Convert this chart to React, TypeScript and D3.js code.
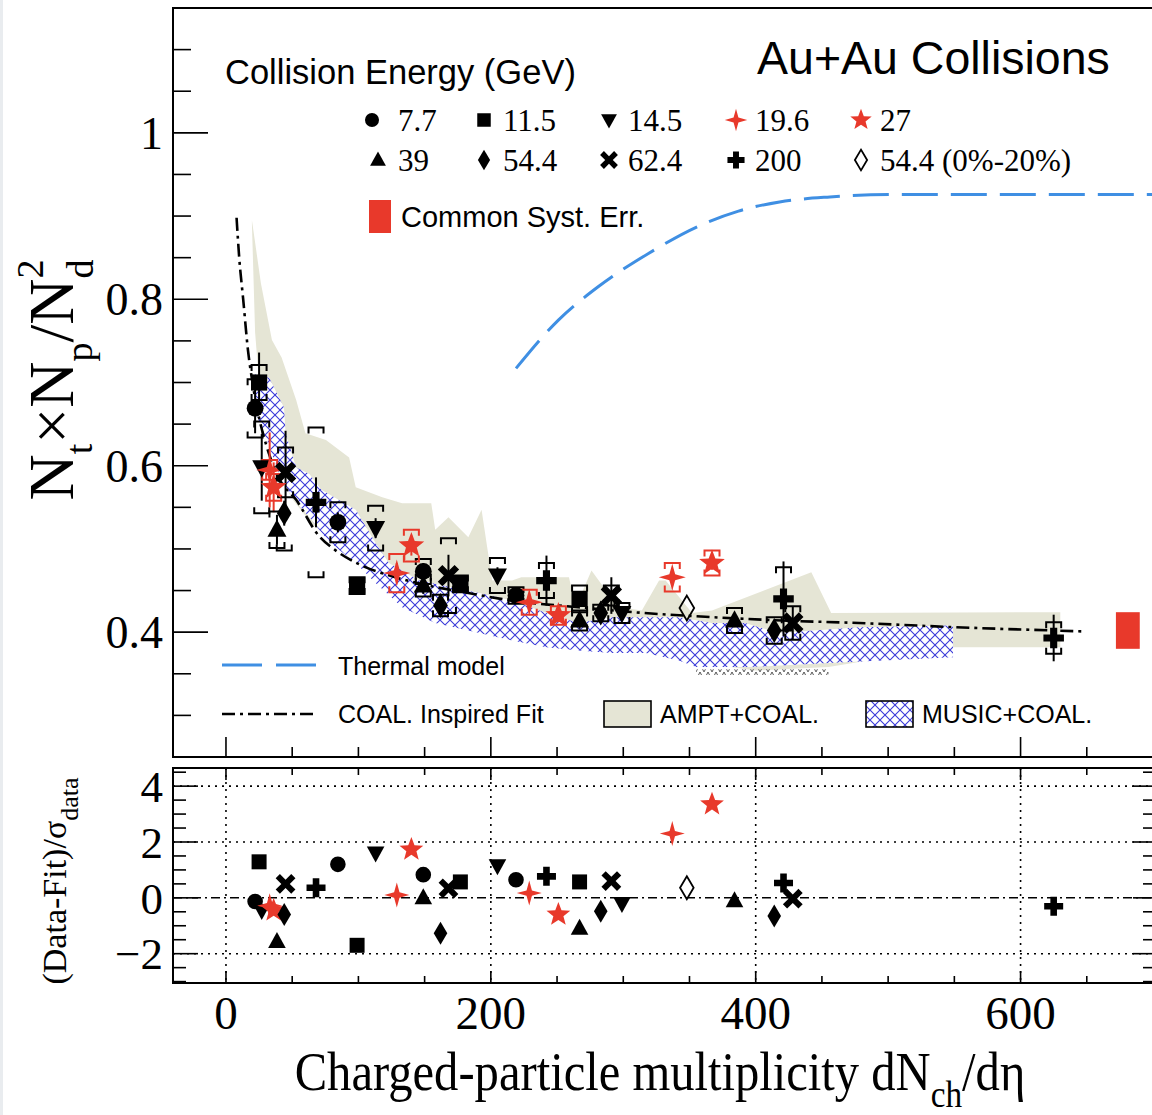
import React from 'react';
import * as d3 from 'd3';

// ---------------- DATA ----------------
const xTickValues = [0, 200, 400, 600];
const xTickLabels = ['0', '200', '400', '600'];
const yTopTickValues = [0.4, 0.6, 0.8, 1.0];
const yTopTickLabels = ['0.4', '0.6', '0.8', '1'];
const yBotTickValues = [-2, 0, 2, 4];
const yBotTickLabels = ['\u22122', '0', '2', '4'];

// 7.7 GeV
const x_7p7 = [22, 84.5, 149, 219];
const y_7p7 = [0.669, 0.532, 0.473, 0.444];
const stat_7p7 = [0.03, 0.012, 0.01, 0.008];
const syst_7p7 = [0.035, 0.024, 0.015, 0.01];
const res_7p7 = [-0.13, 1.2, 0.83, 0.65];
// 11.5 GeV
const x_11p5 = [25, 99, 177, 267];
const y_11p5 = [0.7, 0.456, 0.458, 0.44];
const stat_11p5 = [0.036, 0.008, 0.008, 0.008];
const syst_11p5 = [0.021, 0.01, 0.01, 0.016];
const res_11p5 = [1.29, -1.7, 0.57, 0.57];
// 14.5 GeV
const x_14p5 = [27, 113, 205, 299];
const y_14p5 = [0.598, 0.525, 0.468, 0.423];
const stat_14p5 = [0.04, 0.012, 0.01, 0.008];
const syst_14p5 = [0.055, 0.027, 0.021, 0.012];
const res_14p5 = [-0.45, 1.61, 1.15, -0.2];
// 19.6 GeV
const x_19p6 = [33, 129, 229, 337];
const y_19p6 = [0.595, 0.471, 0.436, 0.466];
const stat_19p6 = [0.045, 0.012, 0.01, 0.01];
const syst_19p6 = [0.012, 0.023, 0.015, 0.017];
const res_19p6 = [-0.28, 0.1, 0.17, 2.3];
// 27 GeV
const x_27 = [36, 140, 251, 367];
const y_27 = [0.574, 0.504, 0.42, 0.483];
const stat_27 = [0.03, 0.012, 0.008, 0.008];
const syst_27 = [0.016, 0.019, 0.011, 0.015];
const res_27 = [-0.45, 1.73, -0.6, 3.35];
// 39 GeV
const x_39 = [38.5, 149, 267, 384];
const y_39 = [0.523, 0.456, 0.414, 0.414];
const stat_39 = [0.018, 0.01, 0.01, 0.008];
const syst_39 = [0.022, 0.013, 0.012, 0.015];
const res_39 = [-1.56, 0.0, -1.09, -0.1];
// 54.4 GeV
const x_54p4 = [44, 162, 283, 414];
const y_54p4 = [0.543, 0.432, 0.423, 0.402];
const stat_54p4 = [0.015, 0.01, 0.008, 0.01];
const syst_54p4 = [0.045, 0.013, 0.01, 0.016];
const res_54p4 = [-0.6, -1.27, -0.48, -0.65];
// 62.4 GeV
const x_62p4 = [45, 168, 291, 428];
const y_62p4 = [0.592, 0.468, 0.444, 0.411];
const stat_62p4 = [0.05, 0.025, 0.022, 0.02];
const syst_62p4 = [0.03, 0.045, 0.012, 0.02];
const res_62p4 = [0.5, 0.34, 0.6, -0.03];
// 200 GeV
const x_200 = [68, 242, 421, 625];
const y_200 = [0.556, 0.462, 0.44, 0.393];
const stat_200 = [0.03, 0.03, 0.045, 0.028];
const syst_200 = [0.09, 0.021, 0.038, 0.019];
const res_200 = [0.36, 0.77, 0.53, -0.3];
// 54.4 GeV (0%-20%)
const x_54c = [348];
const y_54c = [0.429];
const stat_54c = [0];
const syst_54c = [0];
const res_54c = [0.36];

// COAL. inspired fit
const fitX = [8, 10, 13, 16.6, 20, 24, 30, 40, 53, 70, 83, 100, 128, 150, 183, 220, 266, 300, 367, 420, 478, 550, 646];
const fitY = [0.898, 0.85, 0.8, 0.739, 0.7, 0.665, 0.627, 0.585, 0.559, 0.516, 0.498, 0.482, 0.466, 0.457, 0.447, 0.437, 0.43, 0.425, 0.418, 0.414, 0.411, 0.406, 0.401];

// Thermal model
const thermalX = [219, 251, 281, 319, 357, 387, 418, 456, 508, 600, 700];
const thermalY = [0.717, 0.775, 0.815, 0.855, 0.888, 0.906, 0.917, 0.923, 0.926, 0.926, 0.926];

// AMPT+COAL band
const amptUpX = [19.6, 26.4, 34.7, 42, 53, 60, 75.5, 93, 98, 118, 133, 155, 158, 168, 183, 193, 201, 216, 223, 259, 264, 276, 287, 297, 314, 327, 332, 352, 367, 442, 457, 630];
const amptUpY = [0.895, 0.819, 0.751, 0.73, 0.679, 0.639, 0.631, 0.61, 0.574, 0.562, 0.555, 0.555, 0.523, 0.538, 0.514, 0.547, 0.462, 0.462, 0.466, 0.466, 0.43, 0.474, 0.45, 0.43, 0.426, 0.462, 0.462, 0.423, 0.426, 0.472, 0.423, 0.424];
const amptLoX = [19.6, 22, 25, 30, 40, 50, 65, 80, 100, 130, 160, 200, 250, 300, 350, 400, 455, 546, 630];
const amptLoY = [0.89, 0.76, 0.7, 0.64, 0.59, 0.56, 0.53, 0.51, 0.48, 0.455, 0.435, 0.415, 0.4, 0.385, 0.365, 0.354, 0.358, 0.382, 0.382];

// MUSIC+COAL band
const musicUpX = [22, 27, 32.5, 43.8, 45, 53, 63, 72, 98, 113, 123, 146, 191, 216, 242, 266, 291, 342, 367, 392, 417, 478, 549];
const musicUpY = [0.71, 0.706, 0.706, 0.67, 0.639, 0.598, 0.59, 0.571, 0.547, 0.507, 0.483, 0.462, 0.447, 0.438, 0.423, 0.411, 0.418, 0.418, 0.411, 0.411, 0.399, 0.406, 0.408];
const musicLoX = [22, 25, 30, 42, 50, 63, 75, 83, 98, 113, 133, 158, 183, 216, 242, 266, 291, 317, 342, 355, 395, 455, 549];
const musicLoY = [0.67, 0.651, 0.634, 0.583, 0.562, 0.538, 0.514, 0.502, 0.483, 0.459, 0.43, 0.411, 0.402, 0.39, 0.382, 0.378, 0.375, 0.375, 0.366, 0.358, 0.358, 0.363, 0.37];

// small black hatched sliver below MUSIC band
const tailX = [355, 455];
const tailLo = [0.3485, 0.3485];
const tailHi = [0.3555, 0.3555];

// common systematic error
const commonSystX = [672, 690];
const commonSystY = [0.38, 0.424];

// ---------------- STYLE / LAYOUT ----------------
const RED = '#e8392b';
const BEIGE = '#e5e5d5';
const HATCH = '#3a3ad8';
const BLUE = '#3f8fe3';
const SERIF = '"Liberation Serif", "Times New Roman", serif';
const SANS = '"Liberation Sans", Arial, Helvetica, sans-serif';

const L = 173, R = 1153;
const TT = 8, TB = 757;
const BT = 768, BB = 983;

const x = d3.scaleLinear().domain([-40, 700]).range([L, R]);
const yT = d3.scaleLinear().domain([0.25, 1.15]).range([TB, TT]);
const yB = d3.scaleLinear().domain([-3.05, 4.65]).range([BB, BT]);

type Kind = 'circle' | 'square' | 'triDown' | 'triUp' | 'star4' | 'star5' | 'diamond' | 'xcross' | 'plus' | 'diamondOpen';

function poly(pts: [number, number][], s: number) {
  return 'M' + pts.map(p => `${(p[0] * s).toFixed(2)},${(p[1] * s).toFixed(2)}`).join('L') + 'Z';
}
function starPts(n: number, R0: number, r0: number, rot: number): [number, number][] {
  const pts: [number, number][] = [];
  for (let i = 0; i < 2 * n; i++) {
    const a = rot + (Math.PI * i) / n;
    const rr = i % 2 === 0 ? R0 : r0;
    pts.push([rr * Math.sin(a), -rr * Math.cos(a)]);
  }
  return pts;
}
function plusPts(a: number, l: number): [number, number][] {
  return [[-a, -l], [a, -l], [a, -a], [l, -a], [l, a], [a, a], [a, l], [-a, l], [-a, a], [-l, a], [-l, -a], [-a, -a]];
}
function rot45(pts: [number, number][]): [number, number][] {
  const c = Math.SQRT1_2;
  return pts.map(([px, py]) => [px * c - py * c, px * c + py * c]);
}
function markerPath(kind: Kind, s: number): string {
  switch (kind) {
    case 'circle': {
      const r = 7.8 * s;
      return `M${r},0A${r},${r} 0 1 1 ${-r},0A${r},${r} 0 1 1 ${r},0Z`;
    }
    case 'square': return poly([[-7.5, -7.5], [7.5, -7.5], [7.5, 7.5], [-7.5, 7.5]], s);
    case 'triUp': return poly([[0, -9.5], [8.8, 6.5], [-8.8, 6.5]], s);
    case 'triDown': return poly([[0, 9.5], [8.8, -6.5], [-8.8, -6.5]], s);
    case 'diamond':
    case 'diamondOpen': return poly([[0, -11.5], [6.8, 0], [0, 11.5], [-6.8, 0]], s);
    case 'plus': return poly(plusPts(3.3, 9.5), s);
    case 'xcross': return poly(rot45(plusPts(3.0, 11)), s);
    case 'star4': return poly(starPts(4, 12.5, 3.8, 0), s);
    case 'star5': return poly(starPts(5, 12.5, 5.3, 0), s);
  }
  return '';
}

interface Series { label: string; kind: Kind; color: string; xs: number[]; ys: number[]; stat: number[]; syst: number[]; res: number[]; }

const series: Series[] = [
  { label: '7.7', kind: 'circle', color: '#000', xs: x_7p7, ys: y_7p7, stat: stat_7p7, syst: syst_7p7, res: res_7p7 },
  { label: '11.5', kind: 'square', color: '#000', xs: x_11p5, ys: y_11p5, stat: stat_11p5, syst: syst_11p5, res: res_11p5 },
  { label: '14.5', kind: 'triDown', color: '#000', xs: x_14p5, ys: y_14p5, stat: stat_14p5, syst: syst_14p5, res: res_14p5 },
  { label: '19.6', kind: 'star4', color: RED, xs: x_19p6, ys: y_19p6, stat: stat_19p6, syst: syst_19p6, res: res_19p6 },
  { label: '27', kind: 'star5', color: RED, xs: x_27, ys: y_27, stat: stat_27, syst: syst_27, res: res_27 },
  { label: '39', kind: 'triUp', color: '#000', xs: x_39, ys: y_39, stat: stat_39, syst: syst_39, res: res_39 },
  { label: '54.4', kind: 'diamond', color: '#000', xs: x_54p4, ys: y_54p4, stat: stat_54p4, syst: syst_54p4, res: res_54p4 },
  { label: '62.4', kind: 'xcross', color: '#000', xs: x_62p4, ys: y_62p4, stat: stat_62p4, syst: syst_62p4, res: res_62p4 },
  { label: '200', kind: 'plus', color: '#000', xs: x_200, ys: y_200, stat: stat_200, syst: syst_200, res: res_200 },
  { label: '54.4 (0%-20%)', kind: 'diamondOpen', color: '#000', xs: x_54c, ys: y_54c, stat: stat_54c, syst: syst_54c, res: res_54c },
];

// legend grid positions (layout)
const legendMarkerX = [372, 484, 609, 736, 861];
const legendTextX = [391, 503, 628, 755, 880];
const legendRowY = [120, 160];

function Marker({ kind, color, cx, cy, s = 1 }: { kind: Kind; color: string; cx: number; cy: number; s?: number }) {
  const open = kind === 'diamondOpen';
  return (
    <path
      d={markerPath(kind, s)}
      transform={`translate(${cx},${cy})`}
      fill={open ? 'none' : color}
      stroke={open ? color : 'none'}
      strokeWidth={open ? 1.8 : 0}
    />
  );
}

function bandPath(ux: number[], uy: number[], lx: number[], ly: number[], ys: d3.ScaleLinear<number, number>) {
  const pts: [number, number][] = [];
  ux.forEach((v, i) => pts.push([x(v), ys(uy[i])]));
  for (let i = lx.length - 1; i >= 0; i--) pts.push([x(lx[i]), ys(ly[i])]);
  return (d3.line()(pts) || '') + 'Z';
}

function range(a: number, b: number, step: number) {
  const out: number[] = [];
  for (let v = a; v <= b + 1e-9; v += step) out.push(+v.toFixed(4));
  return out;
}

export default function App() {
  const fitLine = d3.line<number>().x((_, i) => x(fitX[i])).y(d => yT(d)).curve(d3.curveMonotoneX)(fitY) || '';
  const thermLine = d3.line<number>().x((_, i) => x(thermalX[i])).y(d => yT(d)).curve(d3.curveMonotoneX)(thermalY) || '';
  const amptD = bandPath(amptUpX, amptUpY, amptLoX, amptLoY, yT);
  const musicD = bandPath(musicUpX, musicUpY, musicLoX, musicLoY, yT);
  const tailD = bandPath(tailX, tailHi, tailX, tailLo, yT);

  const xMinor = range(0, 650, 50);
  const yTopMinor = range(0.3, 1.1, 0.05);
  const yBotMinor = range(-3, 4.5, 0.5);

  const bw = 7.5, bl = 6;

  return (
    <svg width={1152} height={1115} style={{ position: 'absolute', left: 0, top: 0, background: '#fff' }}>
      <defs>
        <pattern id="hatch" width="10" height="10" patternUnits="userSpaceOnUse">
          <path d="M0,0L10,10M10,0L0,10" stroke={HATCH} strokeWidth={1.1} />
        </pattern>
        <pattern id="hatchK" width="8" height="8" patternUnits="userSpaceOnUse">
          <path d="M0,8L4,0L8,8" stroke="#444" strokeWidth={0.9} fill="none" />
        </pattern>
        <clipPath id="clipTop"><rect x={L} y={TT} width={R - L} height={TB - TT} /></clipPath>
        <clipPath id="clipBot"><rect x={L} y={BT} width={R - L} height={BB - BT} /></clipPath>
      </defs>
      <rect x={0} y={0} width={1152} height={1115} fill="#fff" />
      <rect x={0} y={0} width={3} height={1115} fill="#e9ecef" />

      {/* ---------- TOP PANEL ---------- */}
      <g clipPath="url(#clipTop)">
        <path d={amptD} fill={BEIGE} stroke="none" />
        <path d={musicD} fill="#fff" stroke="none" />
        <path d={musicD} fill="url(#hatch)" stroke="none" />
        <path d={tailD} fill="url(#hatchK)" stroke="none" />
        <path d={thermLine} fill="none" stroke={BLUE} strokeWidth={3} strokeDasharray="36,13" />
        <path d={fitLine} fill="none" stroke="#000" strokeWidth={2.6} strokeDasharray="13,5,3,5" />
        {/* common systematic */}
        <rect x={x(commonSystX[0])} y={yT(commonSystY[1])} width={x(commonSystX[1]) - x(commonSystX[0])} height={yT(commonSystY[0]) - yT(commonSystY[1])} fill={RED} />

        {series.map(s => s.xs.map((xv, i) => {
          const cx = x(xv);
          const cy = yT(s.ys[i]);
          const st = s.stat[i];
          const sy = s.syst[i];
          return (
            <g key={s.label + i}>
              {st > 0 && <line x1={cx} x2={cx} y1={yT(s.ys[i] + st)} y2={yT(s.ys[i] - st)} stroke={s.color} strokeWidth={2} />}
              {sy > 0 && (
                <path
                  d={`M${cx - bw},${yT(s.ys[i] + sy) + bl}V${yT(s.ys[i] + sy)}H${cx + bw}V${yT(s.ys[i] + sy) + bl}M${cx - bw},${yT(s.ys[i] - sy) - bl}V${yT(s.ys[i] - sy)}H${cx + bw}V${yT(s.ys[i] - sy) - bl}`}
                  fill="none" stroke={s.color} strokeWidth={2}
                />
              )}
              {cy < -1000 && null}
            </g>
          );
        }))}
        {series.map(s => s.xs.map((xv, i) => (
          <Marker key={'m' + s.label + i} kind={s.kind} color={s.color} cx={x(xv)} cy={yT(s.ys[i])} s={1.08} />
        )))}
      </g>

      {/* frame top */}
      <path d={`M${R},${TT}H${L}V${TB}H${R}`} fill="none" stroke="#000" strokeWidth={2} />
      {yTopMinor.map(v => {
        const major = yTopTickValues.some(m => Math.abs(m - v) < 1e-6);
        return <line key={'yt' + v} x1={L} x2={L + (major ? 35 : 18)} y1={yT(v)} y2={yT(v)} stroke="#000" strokeWidth={1.6} />;
      })}
      {xMinor.map(v => {
        const major = xTickValues.includes(v);
        return <line key={'xt' + v} x1={x(v)} x2={x(v)} y1={TB} y2={TB - (major ? 20 : 10)} stroke="#000" strokeWidth={1.6} />;
      })}
      {yTopTickValues.map((v, i) => (
        <text key={'ytl' + v} x={163} y={yT(v)} dy="0.35em" textAnchor="end" fontFamily={SERIF} fontSize={46}>{yTopTickLabels[i]}</text>
      ))}

      {/* Y title top */}
      <text transform={`translate(73,380) rotate(-90)`} textAnchor="middle" fontFamily={SERIF} fontSize={64}>
        <tspan>N</tspan>
        <tspan fontSize={38} dy={19}>t</tspan>
        <tspan dy={-19}>×N</tspan>
        <tspan fontSize={38} dy={19}>p</tspan>
        <tspan dy={-19}>/N</tspan>
        <tspan fontSize={38} dy={20}>d</tspan>
        <tspan fontSize={38} dx={-19} dy={-50}>2</tspan>
      </text>

      {/* legends */}
      <text x={225} y={84} fontFamily={SANS} fontSize={34.5}>Collision Energy (GeV)</text>
      <text x={757} y={74} fontFamily={SANS} fontSize={46.5}>Au+Au Collisions</text>
      {series.map((s, i) => {
        const row = i < 5 ? 0 : 1;
        const col = i % 5;
        return (
          <g key={'leg' + s.label}>
            <Marker kind={s.kind} color={s.color} cx={legendMarkerX[col] + (row === 1 && col === 0 ? 6 : 0)} cy={legendRowY[row]} s={0.9} />
            <text x={legendTextX[col] + (col === 0 ? 7 : 0)} y={legendRowY[row]} dy="0.36em" fontFamily={SERIF} fontSize={31}>{s.label}</text>
          </g>
        );
      })}
      <rect x={369} y={200} width={22} height={33} fill={RED} />
      <text x={401} y={227} fontFamily={SANS} fontSize={29}>Common Syst. Err.</text>

      <line x1={222} x2={316} y1={665} y2={665} stroke={BLUE} strokeWidth={3} strokeDasharray="40,14" />
      <text x={338} y={675} fontFamily={SANS} fontSize={25}>Thermal model</text>
      <line x1={222} x2={316} y1={714} y2={714} stroke="#000" strokeWidth={2.4} strokeDasharray="13,5,3,5" />
      <text x={338} y={723} fontFamily={SANS} fontSize={25}>COAL. Inspired Fit</text>
      <rect x={604} y={701} width={47} height={26} fill={BEIGE} stroke="#000" strokeWidth={1.6} />
      <text x={660} y={723} fontFamily={SANS} fontSize={25}>AMPT+COAL.</text>
      <rect x={866} y={701} width={47} height={26} fill="#fff" />
      <rect x={866} y={701} width={47} height={26} fill="url(#hatch)" stroke="#000" strokeWidth={1.6} />
      <text x={922} y={723} fontFamily={SANS} fontSize={25}>MUSIC+COAL.</text>

      {/* ---------- BOTTOM PANEL ---------- */}
      <g clipPath="url(#clipBot)">
        {[4, 2, -2].map(v => (
          <line key={'gh' + v} x1={L} x2={R} y1={yB(v)} y2={yB(v)} stroke="#000" strokeWidth={1.6} strokeDasharray="2,5" />
        ))}
        {xTickValues.map(v => (
          <line key={'gv' + v} x1={x(v)} x2={x(v)} y1={BT} y2={BB} stroke="#000" strokeWidth={1.6} strokeDasharray="2,5" />
        ))}
        <line x1={L} x2={R} y1={yB(0)} y2={yB(0)} stroke="#000" strokeWidth={1.5} strokeDasharray="9,4,2,4" />
        {series.map(s => s.xs.map((xv, i) => (
          <Marker key={'r' + s.label + i} kind={s.kind} color={s.color} cx={x(xv)} cy={yB(s.res[i])} s={1.0} />
        )))}
      </g>
      <rect x={L} y={BT} width={R - L} height={BB - BT} fill="none" stroke="#000" strokeWidth={2} />
      {yBotMinor.map(v => {
        const major = Math.abs(v - Math.round(v / 2) * 2) < 1e-6;
        return (
          <g key={'yb' + v}>
            <line x1={L} x2={L + (major ? 25 : 13)} y1={yB(v)} y2={yB(v)} stroke="#000" strokeWidth={1.6} />
            <line x1={R} x2={R - (major ? 20 : 10)} y1={yB(v)} y2={yB(v)} stroke="#000" strokeWidth={1.6} />
          </g>
        );
      })}
      {xMinor.map(v => {
        const major = xTickValues.includes(v);
        return (
          <g key={'xb' + v}>
            <line x1={x(v)} x2={x(v)} y1={BB} y2={BB - (major ? 12 : 7)} stroke="#000" strokeWidth={1.6} />
            <line x1={x(v)} x2={x(v)} y1={BT} y2={BT + (major ? 12 : 7)} stroke="#000" strokeWidth={1.6} />
          </g>
        );
      })}
      {yBotTickValues.map((v, i) => (
        <text key={'ybl' + v} x={163} y={yB(v)} dy="0.35em" textAnchor="end" fontFamily={SERIF} fontSize={45}>{yBotTickLabels[i]}</text>
      ))}
      {xTickValues.map((v, i) => (
        <text key={'xbl' + v} x={x(v)} y={1029} textAnchor="middle" fontFamily={SERIF} fontSize={47}>{xTickLabels[i]}</text>
      ))}

      {/* lower y title */}
      <text transform="translate(66,881) rotate(-90)" textAnchor="middle" fontFamily={SERIF} fontSize={34}>
        <tspan>(Data-Fit)/σ</tspan>
        <tspan fontSize={26} dy={12}>data</tspan>
      </text>

      {/* x title */}
      <text transform="translate(660,1090) scale(0.9,1)" textAnchor="middle" fontFamily={SERIF} fontSize={54}>
        <tspan>Charged-particle multiplicity dN</tspan>
        <tspan fontSize={37} dy={17}>ch</tspan>
        <tspan dy={-17}>/dη</tspan>
      </text>
    </svg>
  );
}
